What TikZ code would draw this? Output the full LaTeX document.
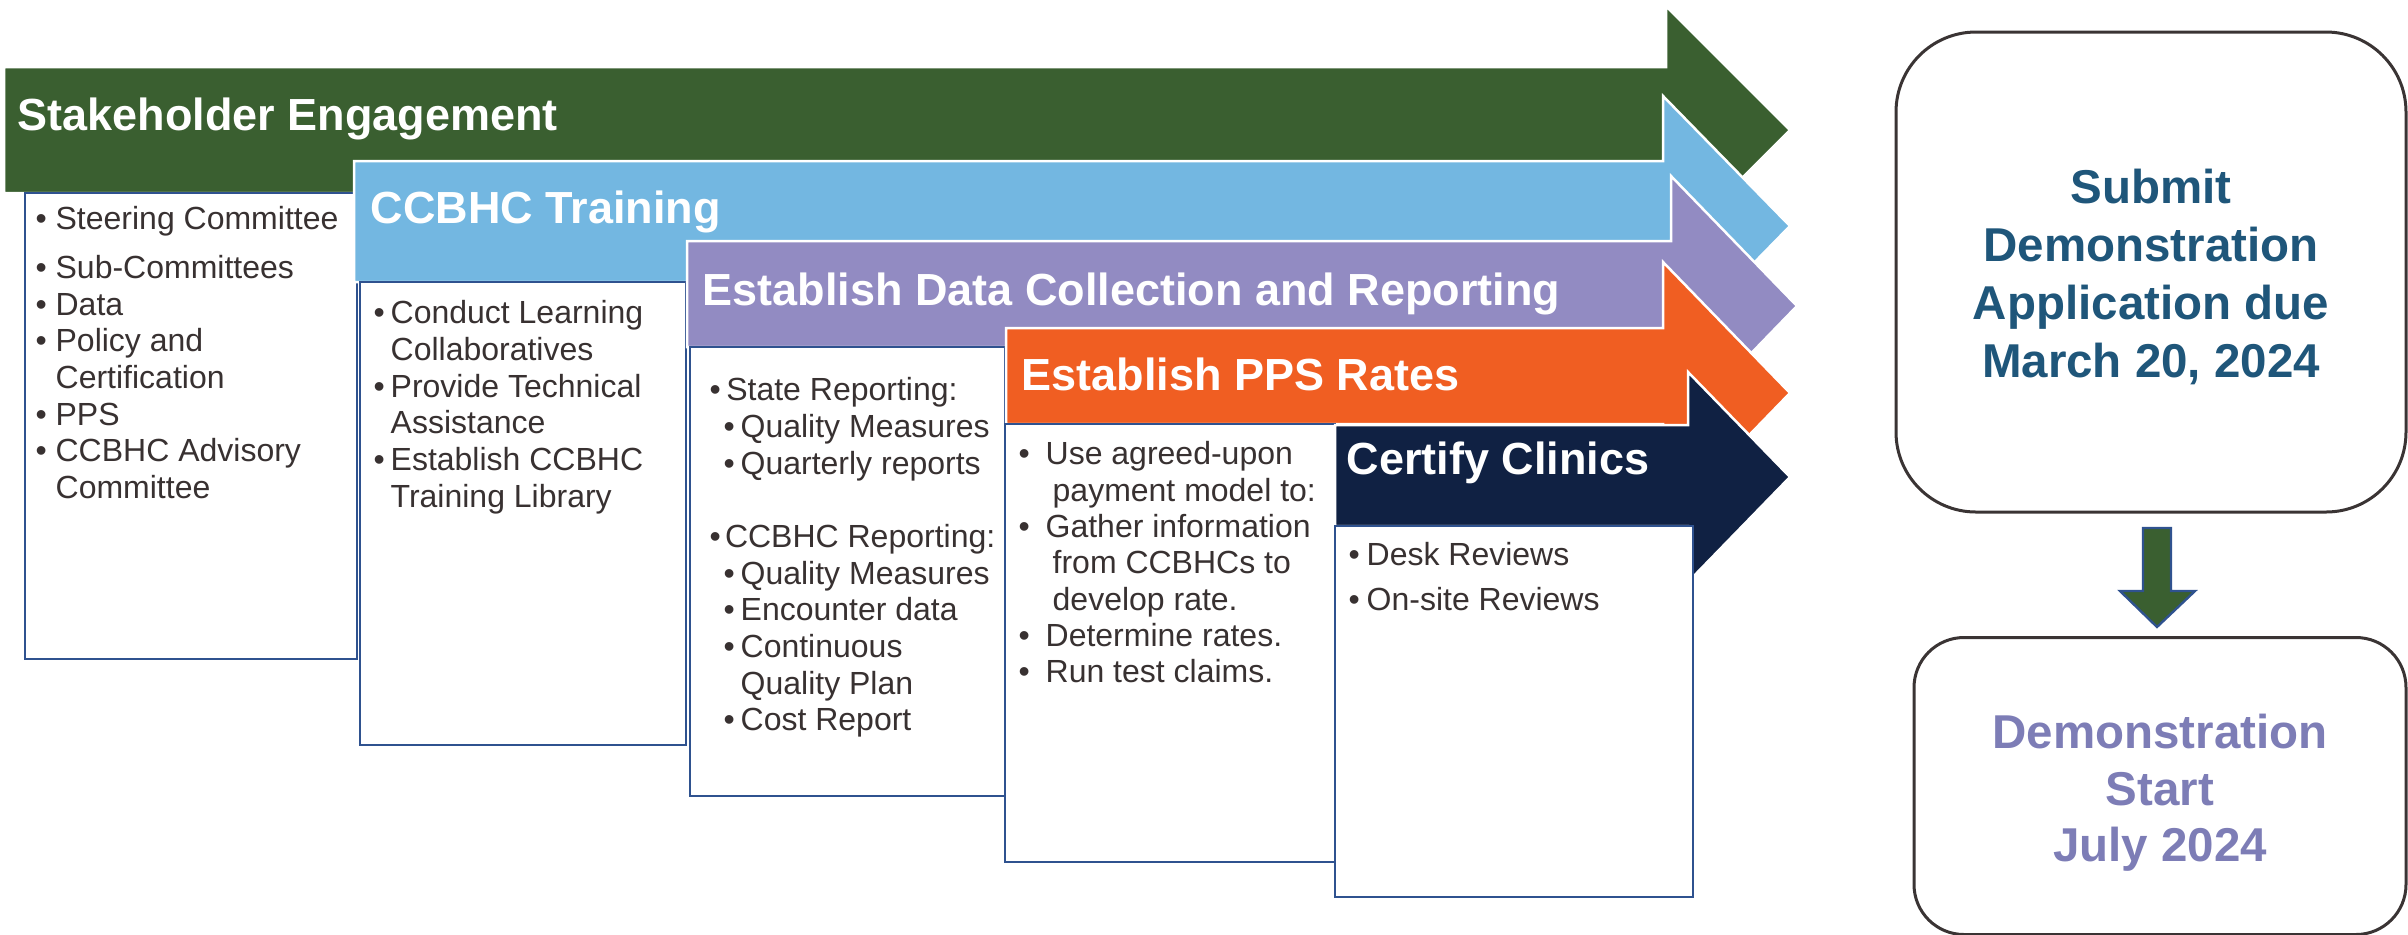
\documentclass[tikz,border=0pt]{standalone}
\usepackage{fontspec}
\setmainfont{Liberation Sans}
\definecolor{phgreen}{HTML}{3A5F30}
\definecolor{phblue}{HTML}{73B7E1}
\definecolor{phpurple}{HTML}{928BC2}
\definecolor{phorange}{HTML}{F05E22}
\definecolor{phnavy}{HTML}{102143}
\definecolor{boxblue}{HTML}{2F528F}
\definecolor{bodygray}{HTML}{383131}
\definecolor{dueblue}{HTML}{1F567A}
\definecolor{startpurple}{HTML}{7D7DB6}
\definecolor{framegray}{HTML}{3A3434}
\newcommand{\bu}[1]{\makebox[#1][l]{\textbullet}}

\begin{document}
\begin{tikzpicture}[x=0.3pt,y=-0.3pt,
    phase/.style={fill=#1, draw=white, line width=0.75pt},
    listbox/.style={draw=boxblue, fill=white, line width=0.85pt},
    title/.style={anchor=base west, inner sep=0, text=white, font=\fontsize{13.5}{16}\selectfont\bfseries},
    items/.style={anchor=north west, inner sep=0, align=left, text=bodygray, font=\fontsize{9.6}{11}\selectfont},
    milestone/.style={draw=framegray, line width=0.9pt},
    datetext/.style={align=center, inner sep=0, font=\fontsize{14.25}{17.4}\selectfont\bfseries}]
    \useasboundingbox (0,0) rectangle (2408,934);

    % stakeholder engagement
    \draw[phase=phgreen] (4,67) -- (1666,67) -- (1666,6) -- (1790,130) -- (1666,254) -- (1666,193) -- (4,193) -- cycle;
    \node[title] (stake) at (17,130) {Stakeholder Engagement};
    \draw[listbox] (25,193) rectangle (357,659);
    \node[items] (stakelist) at (35,206) {\bu{6pt}Steering Committee\\[3.6pt]
      \bu{6pt}Sub-Committees\\ \bu{6pt}Data\\ \bu{6pt}Policy and\\ \hspace*{6pt}Certification\\
      \bu{6pt}PPS\\ \bu{6pt}CCBHC Advisory\\ \hspace*{6pt}Committee};

    % training
    \draw[phase=phblue] (354,161) -- (1663,161) -- (1663,96) -- (1790,226) -- (1663,356) -- (1663,282) -- (354,282) -- cycle;
    \node[title] (train) at (370,223) {CCBHC Training};
    \draw[listbox] (360,282) rectangle (686,745);
    \node[items] (trainlist) at (373,300) {\bu{5.1pt}Conduct Learning\\ \hspace*{5.1pt}Collaboratives\\
      \bu{5.1pt}Provide Technical\\ \hspace*{5.1pt}Assistance\\
      \bu{5.1pt}Establish CCBHC\\ \hspace*{5.1pt}Training Library};

    % data collection
    \draw[phase=phpurple] (687,241) -- (1671,241) -- (1671,176) -- (1797,306) -- (1671,436) -- (1671,347) -- (687,347) -- cycle;
    \node[title] (data) at (702,305) {Establish Data Collection and Reporting};
    \draw[listbox] (690,347) rectangle (1005,796);
    \node[items] (datalist) at (709,377) {\bu{5pt}State Reporting:\\
      \hspace*{4.2pt}\bu{5.1pt}Quality Measures\\ \hspace*{4.2pt}\bu{5.1pt}Quarterly reports\\ \mbox{}\\
      \bu{4.6pt}CCBHC Reporting:\\
      \hspace*{4.2pt}\bu{5.1pt}Quality Measures\\ \hspace*{4.2pt}\bu{5.1pt}Encounter data\\
      \hspace*{4.2pt}\bu{5.1pt}Continuous\\ \hspace*{9.3pt}Quality Plan\\
      \hspace*{4.2pt}\bu{5.1pt}Cost Report};

    % pps rates
    \draw[phase=phorange] (1006,328) -- (1663,328) -- (1663,262) -- (1790,393) -- (1663,524) -- (1663,424) -- (1006,424) -- cycle;
    \node[title] (pps) at (1021,390) {Establish PPS Rates};
    \draw[listbox] (1005,424) rectangle (1335,862);
    \node[items, font=\fontsize{9.6}{10.9}\selectfont] (ppslist) at (1018,441) {\bu{8.1pt}Use agreed-upon\\ \hspace*{10.2pt}payment model to:\\
      \bu{8.1pt}Gather information\\ \hspace*{10.2pt}from CCBHCs to\\ \hspace*{10.2pt}develop rate.\\
      \bu{8.1pt}Determine rates.\\ \bu{8.1pt}Run test claims.};

    % certify
    \draw[phase=phnavy] (1335,425) -- (1688,425) -- (1688,372) -- (1790,477) -- (1688,582) -- (1688,526) -- (1335,526) -- cycle;
    \node[title] (cert) at (1346,474) {Certify Clinics};
    \draw[listbox] (1335,526) rectangle (1693,897);
    \node[items] (certlist) at (1348,542) {\bu{5.4pt}Desk Reviews\\[2.4pt] \bu{5.4pt}On-site Reviews};

    % milestones
    \node[milestone, rounded corners=24pt, minimum width=153pt, minimum height=144pt] (submit) at (2151,272) {};
    \node[datetext, text=dueblue, yshift=-1.5pt] (submittext) at (submit)
      {Submit\\ Demonstration\\ Application due\\ March 20, 2024};
    \node[milestone, rounded corners=15pt, minimum width=147.6pt, minimum height=89.1pt] (start) at (2160,786) {};
    \node[datetext, text=startpurple, font=\fontsize{14.25}{17}\selectfont\bfseries, yshift=-2.1pt] (starttext) at (start)
      {Demonstration\\ Start\\ July 2024};
    \draw[fill=phgreen, draw=boxblue, line width=0.7pt] (2143,528) -- (2171,528) -- (2171,591) -- (2195,591)
      -- (2157,627) -- (2120,591) -- (2143,591) -- cycle;
\end{tikzpicture}
\end{document}
